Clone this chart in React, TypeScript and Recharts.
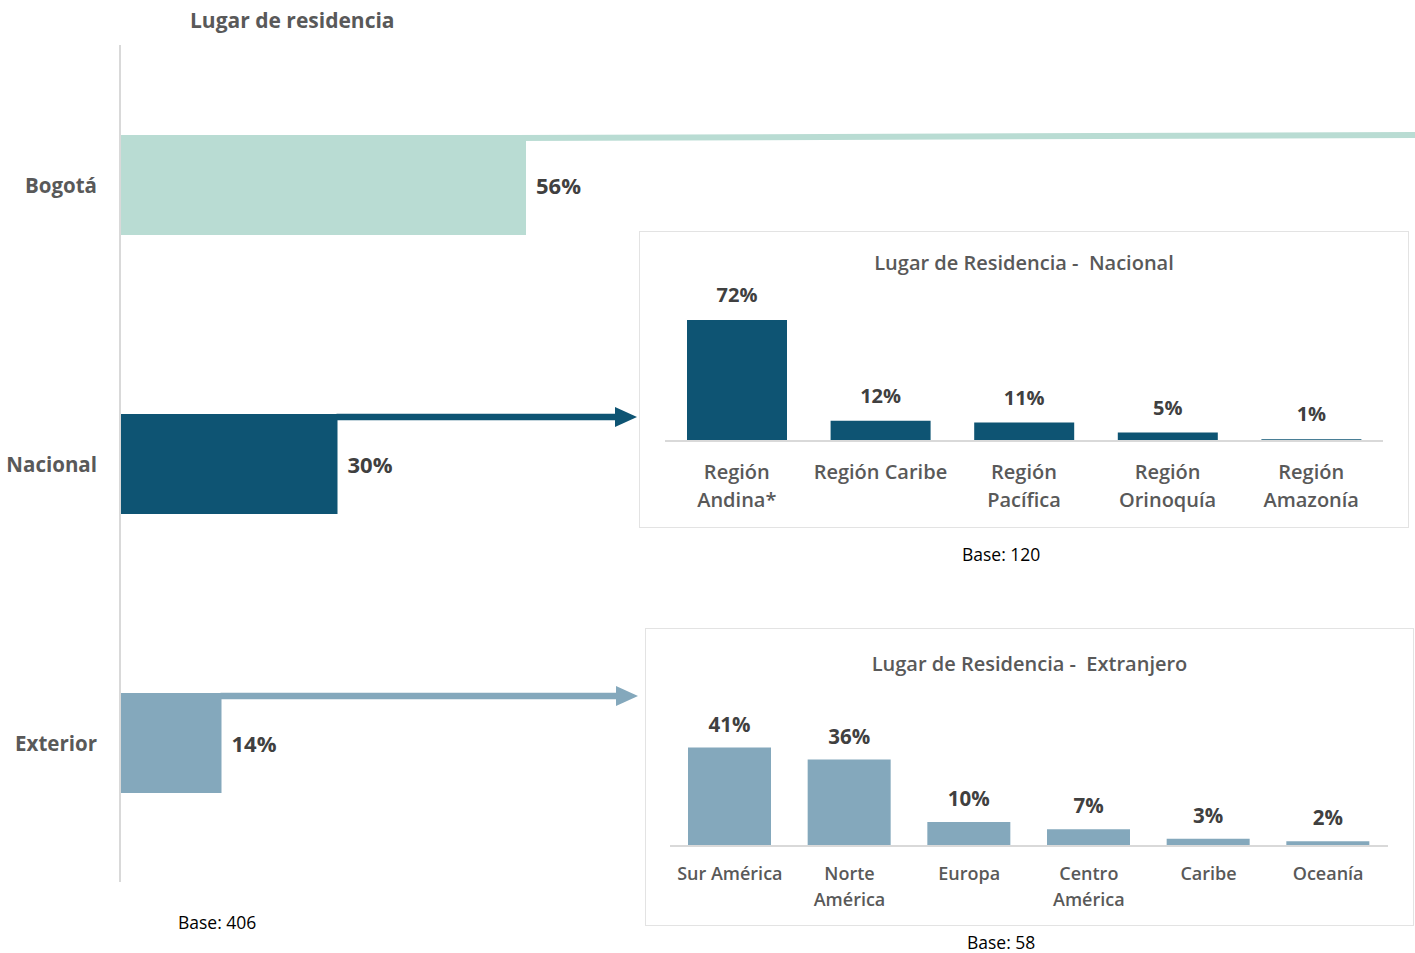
import React from 'react';
import { BarChart, Bar, XAxis, YAxis, Cell, LabelList } from 'recharts';

const FONT = '"Open Sans", Lato, sans-serif';

// main chart
const mainCategories = ['Bogotá', 'Nacional', 'Exterior'];
const mainValues = [56, 30, 14];
const mainColors = ['#B9DCD3', '#0E5473', '#84A8BC'];

// inset: nacional
const nacionalCategories = ['Región\nAndina*', 'Región Caribe', 'Región\nPacífica', 'Región\nOrinoquía', 'Región\nAmazonía'];
const nacionalValues = [72, 12, 11, 5, 1];

// inset: extranjero
const extranjeroCategories = ['Sur América', 'Norte\nAmérica', 'Europa', 'Centro\nAmérica', 'Caribe', 'Oceanía'];
const extranjeroValues = [41, 36, 10, 7, 3, 2];

const mainData = mainCategories.map((name, i) => ({ name, value: mainValues[i] }));
const nacionalData = nacionalCategories.map((name, i) => ({ name, value: nacionalValues[i] }));
const extranjeroData = extranjeroCategories.map((name, i) => ({ name, value: extranjeroValues[i] }));

// where each connector ends (page x); the first one is a plain line to the edge
const arrowEnds = [1415, 637, 638];

const MainTick = (props: any) => {
    const { x, y, payload } = props;
    return (
        <text x={x - 15} y={y} textAnchor="end" dominantBaseline="central" fill="#595959"
            fontSize={20.5} fontWeight="bold" fontFamily={FONT}>
            {payload.value}
        </text>
    );
};

const MainLabel = (props: any) => {
    const { x, y, width, height, value, index } = props;
    const end = x + width;
    const color = mainColors[index];
    const tip = arrowEnds[index];
    let connector = null;
    if (index === 0) {
        connector = <line x1={end - 14} y1={y + 3} x2={tip} y2={y} stroke={color} strokeWidth={6} />;
    } else {
        const ly = y + 3;
        connector = (
            <g>
                <line x1={end - 1} y1={ly} x2={tip - 20} y2={ly} stroke={color} strokeWidth={6.5} />
                <polygon points={`${tip - 22},${ly - 10} ${tip},${ly} ${tip - 22},${ly + 10}`} fill={color} />
            </g>
        );
    }
    return (
        <g>
            {connector}
            <text x={end + 10} y={y + height / 2} dominantBaseline="central" fill="#404040"
                fontSize={22} fontWeight="bold" fontFamily={FONT}>
                {value}%
            </text>
        </g>
    );
};

const makeWrapTick = (fontSize: number, first: number, lineHeight: number) => (props: any) => {
    const { x, y, payload } = props;
    const lines = String(payload.value).split('\n');
    return (
        <text x={x} y={y} textAnchor="middle" fill="#595959" fontSize={fontSize} fontWeight="600" fontFamily={FONT}>
            {lines.map((l, i) => (
                <tspan key={i} x={x} dy={i === 0 ? first : lineHeight}>{l}</tspan>
            ))}
        </text>
    );
};

const makeValueLabel = (fontSize: number, gap: number) => (props: any) => {
    const { x, y, width, value } = props;
    return (
        <text x={x + width / 2} y={y - gap} textAnchor="middle" fill="#404040"
            fontSize={fontSize} fontWeight="bold" fontFamily={FONT}>
            {value}%
        </text>
    );
};

interface InsetProps {
    left: number; top: number; width: number; height: number;
    title: string; titleY: number;
    data: { name: string; value: number }[];
    color: string; domain: [number, number]; barSize: number;
    margin: { top: number; right: number; left: number; bottom: number };
    axisHeight: number;
    tick: any; valueLabel: any;
}

function Inset(p: InsetProps) {
    return (
        <div style={{ position: 'absolute', left: p.left, top: p.top, width: p.width, height: p.height, border: '1px solid #E3E3E3', background: '#fff' }}>
            <div style={{ position: 'absolute', left: 0, width: p.width, top: p.titleY - 13, height: 26, lineHeight: '26px', textAlign: 'center',
                fontFamily: FONT, fontWeight: 600, fontSize: 20, color: '#595959', whiteSpace: 'pre' }}>
                {p.title}
            </div>
            <div style={{ position: 'absolute', left: 0, top: 0 }}>
                <BarChart width={p.width} height={p.height} data={p.data} margin={p.margin} barSize={p.barSize}>
                    <YAxis hide domain={p.domain} />
                    <XAxis dataKey="name" height={p.axisHeight} axisLine={{ stroke: '#D9D9D9', strokeWidth: 2 }} tickLine={false}
                        interval={0} tick={p.tick} />
                    <Bar dataKey="value" fill={p.color} isAnimationActive={false}>
                        <LabelList dataKey="value" content={p.valueLabel} />
                    </Bar>
                </BarChart>
            </div>
        </div>
    );
}

const baseStyle: React.CSSProperties = { position: 'absolute', fontFamily: FONT, fontSize: 17.5, color: '#000', lineHeight: '18px', height: 18, whiteSpace: 'nowrap' };

export default function App() {
    return (
        <div style={{ position: 'absolute', left: 0, top: 0, width: 1415, height: 953, background: '#fff', overflow: 'hidden' }}>
            <div style={{ position: 'absolute', left: 0, top: 0 }}>
                <BarChart width={1415} height={953} data={mainData} layout="vertical"
                    margin={{ top: 45, right: 570, bottom: 71, left: 0 }} barSize={100}>
                    <XAxis type="number" domain={[0, 100]} hide />
                    <YAxis type="category" dataKey="name" width={120} axisLine={{ stroke: '#D9D9D9', strokeWidth: 2 }}
                        tickLine={false} tick={<MainTick />} />
                    <Bar dataKey="value" isAnimationActive={false}>
                        {mainData.map((d, i) => <Cell key={d.name} fill={mainColors[i]} />)}
                        <LabelList dataKey="value" content={MainLabel} />
                    </Bar>
                </BarChart>
            </div>

            <div style={{ position: 'absolute', left: 190, top: 6, height: 28, lineHeight: '28px', fontFamily: FONT, fontWeight: 'bold', fontSize: 21, color: '#595959' }}>
                Lugar de residencia
            </div>

            <Inset left={639} top={231} width={768} height={295}
                title="Lugar de Residencia -  Nacional" titleY={31}
                data={nacionalData} color="#0E5473" domain={[0, 100]} barSize={100}
                margin={{ top: 41, right: 25, left: 25, bottom: 0 }} axisHeight={86}
                tick={makeWrapTick(20, 30, 28)} valueLabel={makeValueLabel(20, 18)} />

            <Inset left={645} top={628} width={767} height={296}
                title="Lugar de Residencia -  Extranjero" titleY={35}
                data={extranjeroData} color="#84A8BC" domain={[0, 50]} barSize={83}
                margin={{ top: 97, right: 25, left: 24, bottom: 0 }} axisHeight={79}
                tick={makeWrapTick(18, 26, 26)} valueLabel={makeValueLabel(20.5, 16)} />

            <div style={{ ...baseStyle, left: 178, top: 913 }}>Base: 406</div>
            <div style={{ ...baseStyle, left: 962, top: 545 }}>Base: 120</div>
            <div style={{ ...baseStyle, left: 967, top: 933 }}>Base: 58</div>
        </div>
    );
}
